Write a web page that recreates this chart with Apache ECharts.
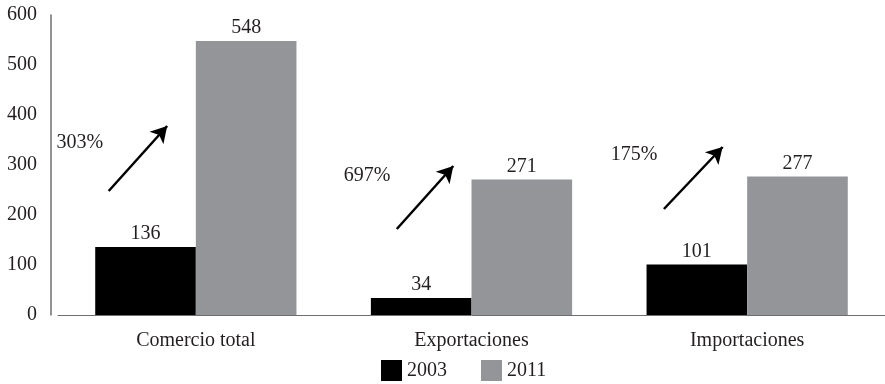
<!DOCTYPE html>
<html>
<head>
<meta charset="utf-8">
<script src="https://cdn.jsdelivr.net/npm/echarts@6/dist/echarts.min.js"></script>
<style>
    html, body { margin: 0; padding: 0; background: #fff; }
    #chart { width: 885px; height: 384px; }
</style>
</head>
<body>
<div id="chart"></div>
<script>
// data
const categories = ['Comercio total', 'Exportaciones', 'Importaciones'];
const values2003 = [136, 34, 101];
const values2011 = [548, 271, 277];
const growthText = ['303%', '697%', '175%'];
const yTicks = [0, 100, 200, 300, 400, 500, 600];

// annotation placement (in category units on a hidden value axis, and y values)
const arrowTail = [[0.184, 248], [1.229, 172], [2.198, 212]];
const arrowTip = [[0.396, 378], [1.434, 298], [2.411, 336]];
const growthAt = [[0.079, 344], [1.121, 278], [2.090, 320]];

const font = '"Liberation Serif", "DejaVu Serif", serif';
const colors = ['#000000', '#939598'];
const fs = 20;

const chart = echarts.init(document.getElementById('chart'));

let arrowLines = arrowTail.map((t, i) => [
    { coord: t },
    { coord: arrowTip[i] }
]);

let option = {
    animation: false,
    textStyle: { fontFamily: font },
    grid: { left: 58, right: -6, top: 15, bottom: 69 },
    legend: {
        data: ['2003', '2011'],
        left: 381,
        top: 360,
        padding: 0,
        itemWidth: 21,
        itemHeight: 21,
        itemGap: 34,
        icon: 'rect',
        textStyle: { fontFamily: font, fontSize: fs, color: '#231f20' }
    },
    xAxis: [{
        type: 'category',
        data: categories,
        axisLine: { lineStyle: { color: '#6d6e71', width: 1 } },
        axisTick: { show: false },
        axisLabel: { color: '#231f20', fontSize: fs, margin: 16, fontFamily: font }
    }, {
        type: 'value',
        min: 0,
        max: 3,
        show: false
    }],
    yAxis: {
        type: 'value',
        min: 0,
        max: 600,
        interval: 100,
        offset: 7,
        axisLine: { show: true, onZero: false, lineStyle: { color: '#6d6e71', width: 1.5 } },
        axisTick: { show: false },
        splitLine: { show: false },
        axisLabel: { color: '#231f20', fontSize: fs, margin: 14, fontFamily: font,
            formatter: v => yTicks.includes(v) ? String(v) : '' }
    },
    series: [{
        name: '2003',
        type: 'bar',
        data: values2003,
        barGap: '0%',
        barCategoryGap: '27%',
        itemStyle: { color: colors[0] },
        label: { show: true, position: 'top', distance: 3, color: '#231f20', fontSize: fs, fontFamily: font }
    }, {
        name: '2011',
        type: 'bar',
        data: values2011,
        barGap: '0%',
        barCategoryGap: '27%',
        itemStyle: { color: colors[1] },
        label: { show: true, position: 'top', distance: 3, color: '#231f20', fontSize: fs, fontFamily: font }
    }, {
        name: 'arrows',
        type: 'scatter',
        xAxisIndex: 1,
        data: [],
        markLine: {
            silent: true,
            symbol: ['none', 'arrow'],
            symbolSize: [14, 16],
            label: { show: false },
            lineStyle: { color: '#000', width: 2.5, type: 'solid' },
            data: arrowLines
        }
    }, {
        name: 'growth',
        type: 'scatter',
        xAxisIndex: 1,
        symbolSize: 0,
        itemStyle: { opacity: 1 },
        data: growthAt.map((p, i) => ({ value: p, name: growthText[i] })),
        label: {
            show: true,
            position: 'inside',
            formatter: p => p.name,
            color: '#231f20',
            opacity: 1,
            fontSize: fs,
            fontFamily: font
        }
    }]
};

chart.setOption(option);
</script>
</body>
</html>
